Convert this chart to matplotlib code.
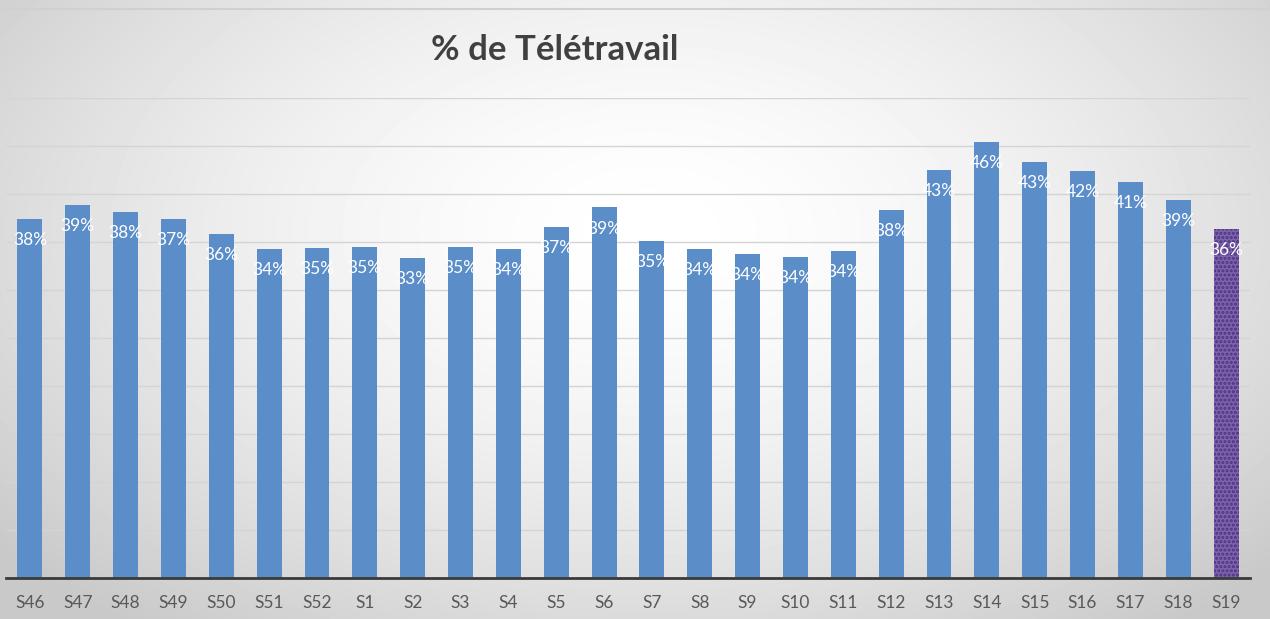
import numpy as np
import matplotlib.pyplot as plt

# weekly share of telework (bar heights, in %)
weeks = ['S46', 'S47', 'S48', 'S49', 'S50', 'S51', 'S52', 'S1', 'S2', 'S3', 'S4', 'S5', 'S6',
         'S7', 'S8', 'S9', 'S10', 'S11', 'S12', 'S13', 'S14', 'S15', 'S16', 'S17', 'S18', 'S19']
values = [37.4, 38.9, 38.1, 37.4, 35.8, 34.3, 34.4, 34.5, 33.3, 34.5, 34.3, 36.6, 38.6,
          35.1, 34.3, 33.8, 33.4, 34.1, 38.3, 42.5, 45.4, 43.3, 42.4, 41.3, 39.4, 36.4]
labels = ['38%', '39%', '38%', '37%', '36%', '34%', '35%', '35%', '33%', '35%', '34%', '37%', '39%',
          '35%', '34%', '34%', '34%', '34%', '38%', '43%', '46%', '43%', '42%', '41%', '39%', '36%']

plt.rcParams['font.family'] = ['Lato', 'DejaVu Sans']
plt.rcParams['hatch.linewidth'] = 1.5

fig = plt.figure(figsize=(12.70, 6.19), dpi=100)

# soft radial background like the Excel chart area
bg = fig.add_axes([0, 0, 1, 1], zorder=-10)
yy, xx = np.mgrid[0:619, 0:1270]
r = np.sqrt(((xx - 650) / 700.0) ** 2 + ((yy - 230) / 420.0) ** 2)
shade = 1.0 - 0.16 * np.clip(r, 0, 1.2) ** 1.6
bg.imshow(shade, cmap='gray', vmin=0, vmax=1, aspect='auto', extent=[0, 1, 0, 1])
bg.axhline(1 - 9 / 619, xmin=6 / 1270, xmax=1, color='#d0d0d0', linewidth=1.5)
bg.set_xlim(0, 1)
bg.set_ylim(0, 1)
bg.axis('off')

ax = fig.add_axes([6 / 1270, 41 / 619, 1244 / 1270, 480 / 619])
ax.patch.set_alpha(0)

x = np.arange(len(weeks))
colors = ['#5b8dc9'] * (len(weeks) - 1) + ['#7d62b0']
bars = ax.bar(x, values, width=0.52, color=colors, linewidth=0, zorder=2)
# last week still in progress: hatched purple bar
bars[-1].set_hatch('....')
bars[-1].set_edgecolor('#4b3478')

for xi, v, lab in zip(x, values, labels):
    ax.text(xi, v - 2.2, lab, ha='center', va='center', color='white', fontsize=12.5, zorder=3)

ax.set_xlim(-0.5, len(weeks) - 0.5)
ax.set_ylim(0, 50)
ax.set_yticks(np.arange(0, 51, 5))
ax.yaxis.grid(True, color='#d4d4d4', linewidth=1)
ax.set_axisbelow(True)
ax.tick_params(axis='y', left=False, labelleft=False)
ax.set_xticks(x)
ax.set_xticklabels(weeks, fontsize=12.5, color='#595959')
ax.tick_params(axis='x', length=0, pad=12)
for side in ['top', 'right', 'left']:
    ax.spines[side].set_visible(False)
ax.spines['bottom'].set_color('#3a3a3a')
ax.spines['bottom'].set_linewidth(2)

fig.text(555 / 1270, 1 - 50 / 619, '% de Télétravail', ha='center', va='center',
         fontsize=25, fontweight='bold', color='#404040')

fig.savefig('out.png', dpi=100)
